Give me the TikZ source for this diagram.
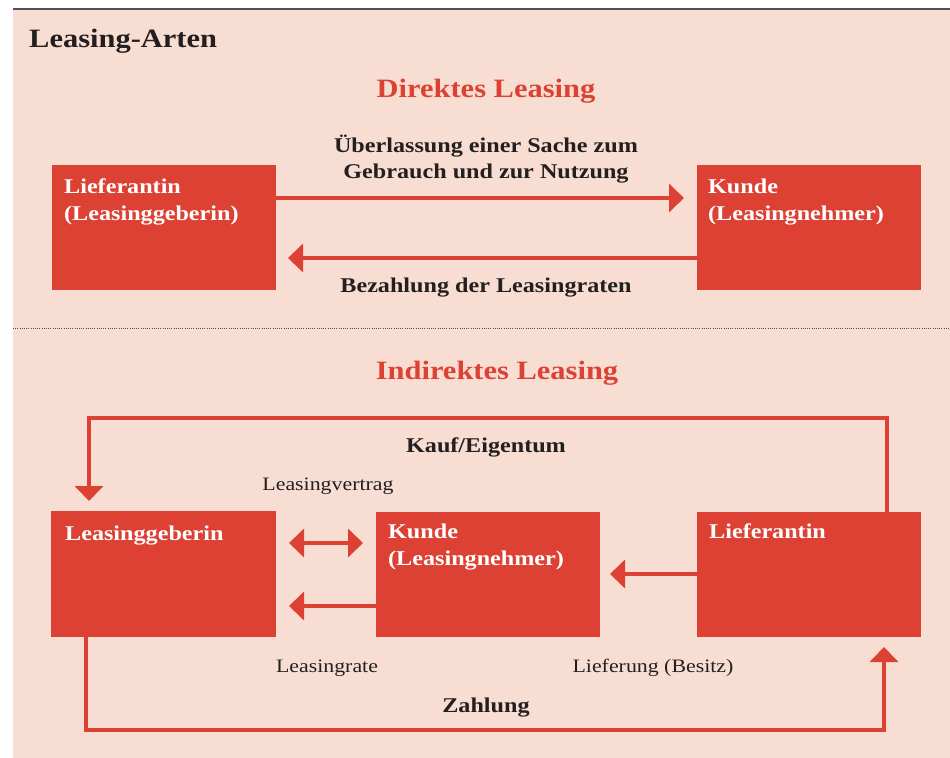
\documentclass[tikz,border=0pt]{standalone}
\usepackage{fontspec}
\setmainfont{Liberation Serif}[FakeStretch=1.15]
\usetikzlibrary{arrows.meta}
\definecolor{bgpink}{RGB}{248,222,210}
\definecolor{lred}{RGB}{220,65,52}
\definecolor{ink}{RGB}{35,31,32}
\definecolor{rule}{RGB}{80,80,80}
\newcommand{\twolines}[2]{\vtop{\hbox{#1}\hbox{#2}}}
\tikzset{
  box/.style={fill=lred, draw=none, inner sep=0pt, outer sep=0pt, anchor=north west},
  boxtext/.style={anchor=base west, inner sep=0pt, text=white, font=\fontsize{21bp}{27bp}\selectfont\bfseries},
  heading/.style={anchor=base west, inner sep=0pt, text=ink, font=\fontsize{26.5bp}{30bp}\selectfont\bfseries},
  sectitle/.style={anchor=base, inner sep=0pt, text=lred, font=\fontsize{26.5bp}{30bp}\selectfont\bfseries},
  boldlbl/.style={anchor=base, inner sep=0pt, text=ink, font=\fontsize{21bp}{26bp}\selectfont\bfseries},
  plainlbl/.style={anchor=base, inner sep=0pt, text=ink, font=\fontsize{19bp}{23bp}\selectfont},
  arr/.style={draw=lred, line width=4bp, -{Triangle[length=15bp,width=28bp]}},
  darr/.style={draw=lred, line width=4bp, {Triangle[length=15bp,width=28bp]}-{Triangle[length=15bp,width=28bp]}},
}
\begin{document}
\begin{tikzpicture}[x=1bp, y=-1bp]
\useasboundingbox (0,0) rectangle (950,758);
% background
\fill[bgpink] (13,10) rectangle (950,758);
\draw[rule, line width=1.5bp] (13,9) -- (950,9);
\draw[rule, line width=0.9bp, dash pattern=on 0.9bp off 1.3bp] (13,328) -- (950,328);

\node[heading] (title) at (29,48) {Leasing-Arten};

% ---------- Direktes Leasing ----------
\node[sectitle] (t1) at (486,97) {Direktes Leasing};
\node[box, minimum width=224bp, minimum height=125bp] (A) at (52,165) {};
\node[box, minimum width=224bp, minimum height=125bp] (B) at (697,165) {};
\node[boxtext] (Atxt) at (64,193) {\twolines{Lieferantin}{(Leasinggeberin)}};
\node[boxtext] (Btxt) at (708,193) {\twolines{Kunde}{(Leasingnehmer)}};

\node[boldlbl] (l1a) at (486,152) {Überlassung einer Sache zum};
\node[boldlbl] (l1b) at (486,178) {Gebrauch und zur Nutzung};
\node[boldlbl] (l2) at (486,292) {Bezahlung der Leasingraten};

\draw[arr, shorten >=13bp] (A.east |- 0,198) -- (B.west |- 0,198);
\draw[arr, shorten >=12bp] (B.west |- 0,258) -- (A.east |- 0,258);

% ---------- Indirektes Leasing ----------
\node[sectitle] (t2) at (497,379) {Indirektes Leasing};
\node[box, minimum width=225bp, minimum height=126bp] (G) at (51,511) {};
\node[box, minimum width=224bp, minimum height=125bp] (K) at (376,512) {};
\node[box, minimum width=224bp, minimum height=125bp] (Lf) at (697,512) {};
\node[boxtext] (Gtxt) at (65,540) {Leasinggeberin};
\node[boxtext] (Ktxt) at (388,538) {\twolines{Kunde}{(Leasingnehmer)}};
\node[boxtext] (Lftxt) at (709,538) {Lieferantin};

\node[boldlbl] (kauf) at (486,452) {Kauf/Eigentum};
\node[plainlbl] (vertrag) at (328,490) {Leasingvertrag};
\node[plainlbl] (rate) at (327,672) {Leasingrate};
\node[plainlbl] (lief) at (653,672) {Lieferung (Besitz)};
\node[boldlbl] (zahl) at (486,712) {Zahlung};

\coordinate (tl) at (89,418);
\coordinate (tr) at (887,418);
\coordinate (bl) at (86,730);
\coordinate (br) at (884,730);
\draw[arr, shorten >=10bp] (Lf.north -| tr) -- (tr) -- (tl) -- (G.north -| tl);
\draw[darr, shorten <=13bp, shorten >=13bp] (G.east |- 0,543) -- (K.west |- 0,543);
\draw[arr, shorten >=13bp] (K.west |- 0,606) -- (G.east |- 0,606);
\draw[arr, shorten >=10bp] (Lf.west |- 0,574) -- (K.east |- 0,574);
\draw[arr, shorten >=10bp] (G.south -| bl) -- (bl) -- (br) -- (Lf.south -| br);
\end{tikzpicture}
\end{document}
